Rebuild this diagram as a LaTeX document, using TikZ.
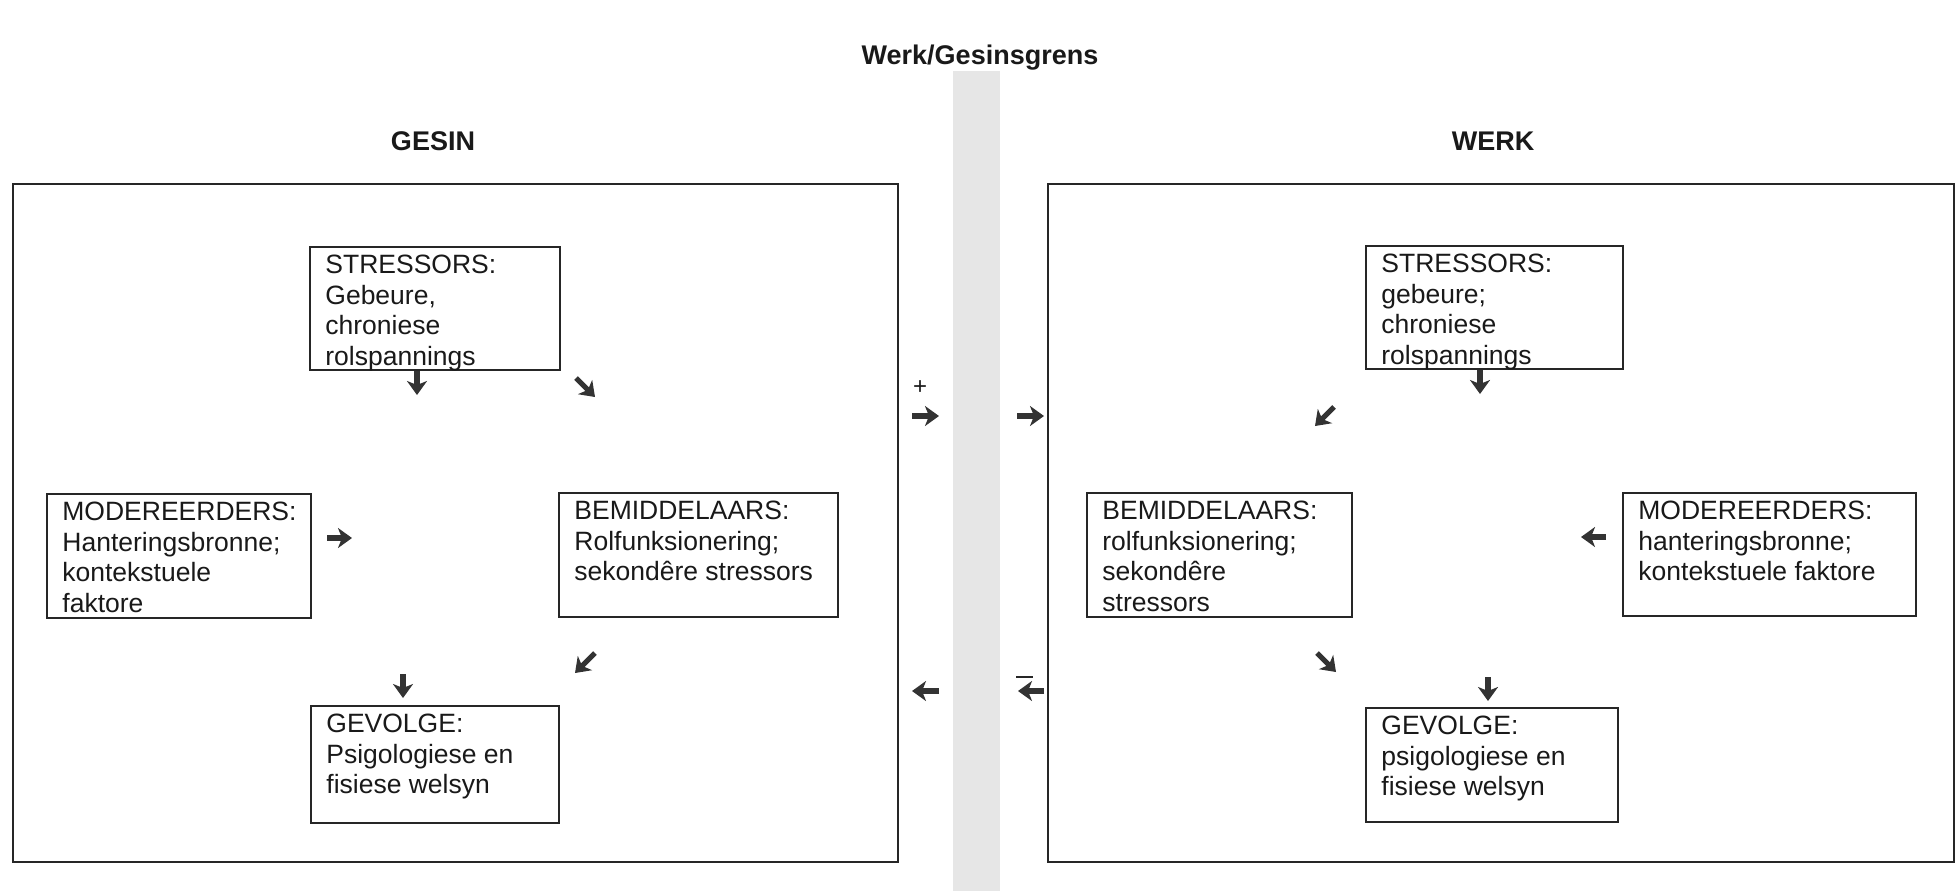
\documentclass[tikz,border=0pt]{standalone}
\usepackage{fontspec}
\setmainfont{Liberation Sans}
\usetikzlibrary{arrows.meta}
\definecolor{arr}{HTML}{333333}
\definecolor{bandc}{HTML}{E6E6E6}
\begin{document}
\begin{tikzpicture}[x=0.5pt,y=-0.5pt,
  outerbox/.style={draw=black!85, line width=1pt, anchor=north west, inner sep=0pt},
  inbox/.style={draw=black!85, line width=0.75pt, anchor=north west, inner sep=0pt},
  txt/.style={anchor=north west, inner sep=0pt, align=left, font=\fontsize{13.25}{15.25}\selectfont, text=black!90},
  headtxt/.style={font=\bfseries\fontsize{13.5}{16}\selectfont, text=black!90},
  blk/.style={draw=arr, line width=2.6pt, -{Stealth[length=7pt,width=10pt,inset=2pt]}}]
\useasboundingbox (0,0) rectangle (1959,891);
% grey boundary band
\fill[bandc] (953,71) rectangle (1000,891);
% titles
\node[headtxt] (title) at (980,58) {Werk/Gesinsgrens};
\node[headtxt] (gesin) at (433,141) {GESIN};
\node[headtxt] (werk) at (1493,141) {WERK};
% outer boxes
\node[outerbox, minimum width=442.5pt, minimum height=339pt] (lout) at (12,183) {};
\node[outerbox, minimum width=453pt, minimum height=339pt] (rout) at (1047,183) {};
% left inner boxes
\node[inbox, minimum width=125pt, minimum height=61.5pt] (ls) at (309,246) {};
\node[txt] (lst) at ([shift={(16,9)}]ls.north west) {STRESSORS:\\Gebeure,\\chroniese\\rolspannings};
\node[inbox, minimum width=132pt, minimum height=62pt] (lm) at (46,493) {};
\node[txt] (lmt) at ([shift={(16,9)}]lm.north west) {MODEREERDERS:\\Hanteringsbronne;\\kontekstuele\\faktore};
\node[inbox, minimum width=139.5pt, minimum height=62pt] (lb) at (558,492) {};
\node[txt] (lbt) at ([shift={(16,9)}]lb.north west) {BEMIDDELAARS:\\Rolfunksionering;\\sekondêre stressors};
\node[inbox, minimum width=124pt, minimum height=58.5pt] (lg) at (310,705) {};
\node[txt] (lgt) at ([shift={(16,9)}]lg.north west) {GEVOLGE:\\Psigologiese en\\fisiese welsyn};
% right inner boxes
\node[inbox, minimum width=128.5pt, minimum height=61.5pt] (rs) at (1365,245) {};
\node[txt] (rst) at ([shift={(16,9)}]rs.north west) {STRESSORS:\\gebeure;\\chroniese\\rolspannings};
\node[inbox, minimum width=132.5pt, minimum height=62pt] (rb) at (1086,492) {};
\node[txt] (rbt) at ([shift={(16,9)}]rb.north west) {BEMIDDELAARS:\\rolfunksionering;\\sekondêre\\stressors};
\node[inbox, minimum width=146.5pt, minimum height=61.5pt] (rm) at (1622,492) {};
\node[txt] (rmt) at ([shift={(16,9)}]rm.north west) {MODEREERDERS:\\hanteringsbronne;\\kontekstuele faktore};
\node[inbox, minimum width=126pt, minimum height=57pt] (rg) at (1365,707) {};
\node[txt] (rgt) at ([shift={(16,9)}]rg.north west) {GEVOLGE:\\psigologiese en\\fisiese welsyn};
% left arrows
\draw[blk] (417,371) -- (417,395);
\draw[blk] (576,378) -- (595,397);
\draw[blk] (327,538) -- (352,538);
\draw[blk] (595,653) -- (575,673);
\draw[blk] (403,674) -- (403,698);
% boundary arrows
\node[txt, anchor=center, font=\fontsize{12}{14}\selectfont] (plus) at (920,388) {+};
\draw[blk] (912,416) -- (939,416);
\draw[blk] (1017,416) -- (1044,416);
\draw[blk] (939,691) -- (912,691);
\draw[blk] (1044,691) -- (1018,691);
\coordinate (minA) at (1016,677);
\coordinate (minB) at (1033,677);
\draw[line width=0.6pt, black!85] (minA) -- (minB);
% right arrows
\draw[blk] (1480,370) -- (1480,394);
\draw[blk] (1334,407) -- (1315,426);
\draw[blk] (1606,537) -- (1581,537);
\draw[blk] (1317,653) -- (1336,672);
\draw[blk] (1488,677) -- (1488,701);
\end{tikzpicture}
\end{document}
